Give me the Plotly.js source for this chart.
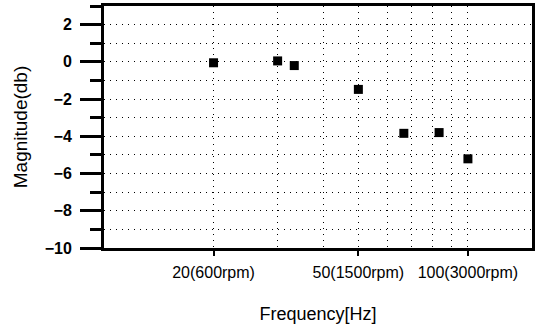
<!DOCTYPE html>
<html>
<head>
<meta charset="utf-8">
<script src="https://cdn.plot.ly/plotly-3.0.1.min.js"></script>
<style>html,body{margin:0;padding:0;background:#fff;}#chart{width:546px;height:327px;}</style>
</head>
<body>
<div id="chart"></div>
<script>
const freqHz = [20, 30, 33.33, 50, 66.67, 83.33, 100];
const magnitudeDb = [-0.05, 0.05, -0.2, -1.48, -3.84, -3.8, -5.21];
const xTickVals = [20, 50, 100];
const xTickText = ['20(600rpm)', '50(1500rpm)', '100(3000rpm)'];
const xGridVals = [30, 40, 60, 70, 80, 90];
const yTickVals = [-10, -8, -6, -4, -2, 0, 2];

const trace = {
  x: freqHz, y: magnitudeDb, type: 'scatter', mode: 'markers',
  marker: {symbol: 'square', size: 9, color: '#000'},
  hoverinfo: 'skip'
};
const font = 'Liberation Sans, Arial, sans-serif';
const layout = {
  width: 546, height: 327,
  margin: {l: 104, r: 14, t: 6, b: 79},
  paper_bgcolor: '#fff', plot_bgcolor: '#fff',
  showlegend: false,
  font: {family: font, color: '#000', size: 13},
  xaxis: {
    type: 'log', range: [1, Math.log10(150)],
    tickmode: 'array', tickvals: xTickVals, ticktext: xTickText,
    ticks: 'outside', ticklen: 5, tickwidth: 2, tickcolor: '#000',
    ticklabelstandoff: 3,
    tickfont: {family: font, size: 16, color: '#000'},
    showline: true, linewidth: 3, linecolor: '#000', mirror: true,
    showgrid: true, gridcolor: '#000', gridwidth: 1, griddash: '1px,5px',
    minor: {tickmode: 'array', tickvals: xGridVals, ticks: '', showgrid: true,
            gridcolor: '#000', gridwidth: 1, griddash: '1px,5px'},
    zeroline: false,
    title: {text: 'Frequency[Hz]', font: {family: font, size: 18, color: '#000'}, standoff: 28}
  },
  yaxis: {
    range: [-10, 3],
    tickmode: 'array', tickvals: yTickVals,
    ticks: 'outside', ticklen: 21, tickwidth: 3, tickcolor: '#000',
    ticklabelstandoff: 5,
    tickfont: {family: font, size: 16, color: '#000', weight: 'bold'},
    showline: true, linewidth: 3, linecolor: '#000', mirror: true,
    showgrid: true, gridcolor: '#000', gridwidth: 1, griddash: '1px,5px',
    minor: {tickmode: 'linear', tick0: -9, dtick: 2, ticks: 'outside', ticklen: 11,
            tickwidth: 3, tickcolor: '#000', showgrid: true,
            gridcolor: '#000', gridwidth: 1, griddash: '1px,5px'},
    zeroline: false,
    title: {text: 'Magnitude(db)', font: {family: font, size: 19, color: '#000'}, standoff: 13}
  }
};
Plotly.newPlot('chart', [trace], layout, {staticPlot: true, displayModeBar: false});
</script>
</body>
</html>
